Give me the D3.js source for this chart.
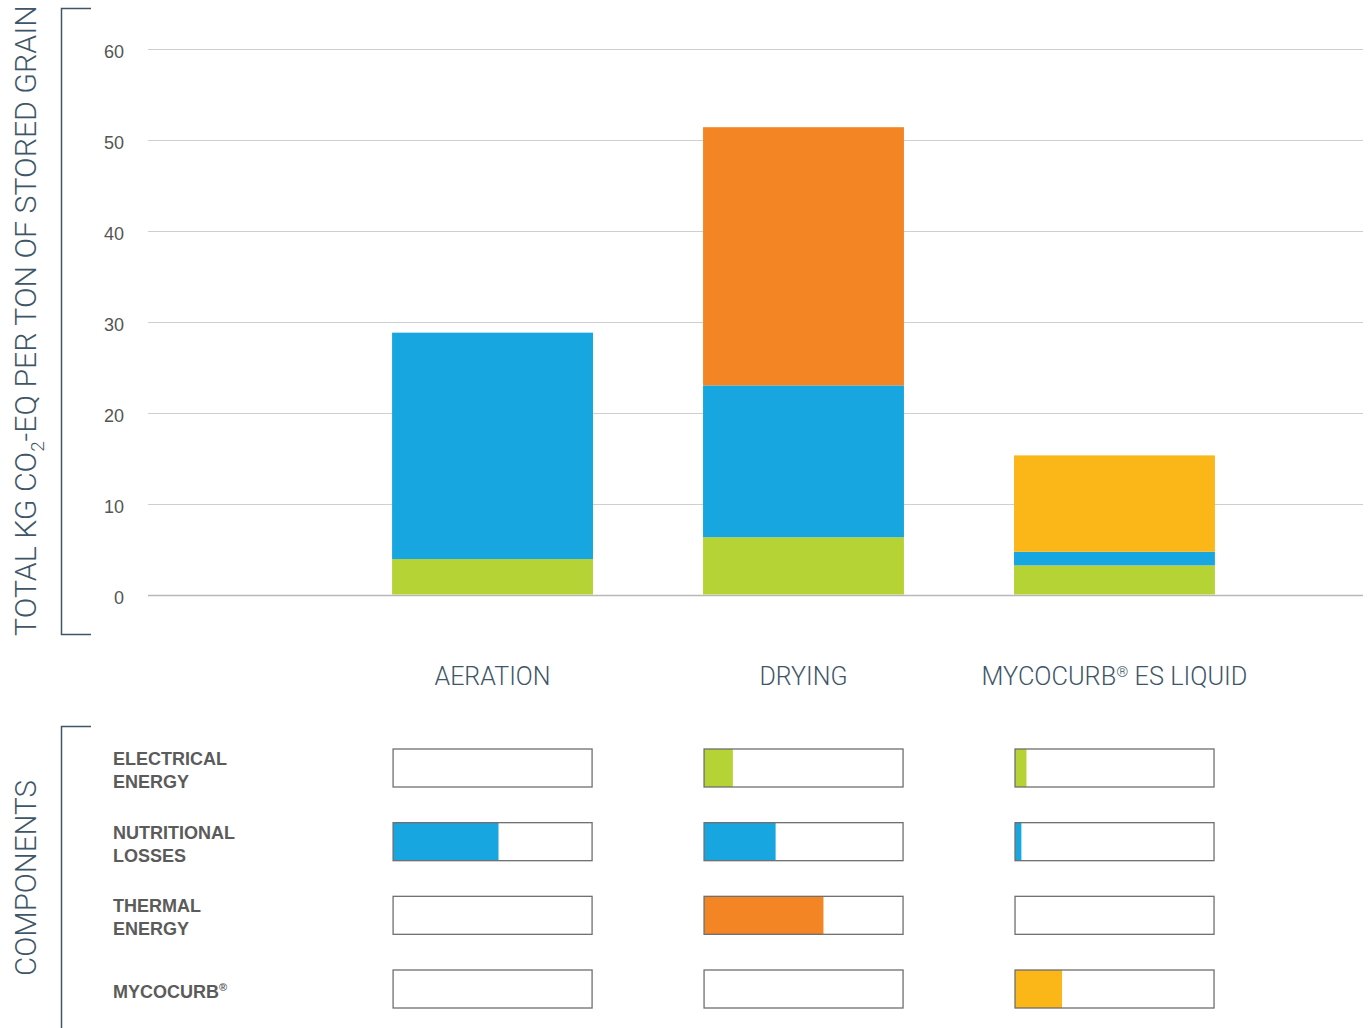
<!DOCTYPE html>
<html><head><meta charset="utf-8">
<script src="https://cdn.jsdelivr.net/npm/d3@7"></script>
<style>body{margin:0;background:#fff}svg{display:block}</style>
</head><body>
<svg id="c" width="1369" height="1028"></svg>
<script>
// ---- data ----
const categories = ["AERATION", "DRYING", "MYCOCURB® ES LIQUID"];
const seriesNames = ["ELECTRICAL ENERGY", "NUTRITIONAL LOSSES", "THERMAL ENERGY", "MYCOCURB®"];
const electrical = [3.9, 6.3, 3.2];
const nutritional = [24.9, 16.7, 1.5];
const thermal = [0, 28.4, 0];
const mycocurb = [0, 0, 10.6];
const yTicks = [0, 10, 20, 30, 40, 50, 60];
// component indicator bars (as drawn in the lower panel)
const indElectrical = [0, 6.8, 2.7];
const indNutritional = [24.9, 16.9, 1.5];
const indThermal = [0, 28.2, 0];
const indMycocurb = [0, 0, 11.1];
const indMax = 47;
const componentLabels = [["ELECTRICAL", "ENERGY"], ["NUTRITIONAL", "LOSSES"], ["THERMAL", "ENERGY"], ["MYCOCURB®"]];
const colors = ["#b5d334", "#17a6df", "#f48524", "#fbb618"];

const svg = d3.select("#c");
const slate = "#3e5668";

const x = d3.scaleBand().domain(categories).range([282, 1325]).padding(0.354);
const y = d3.scaleLinear().domain([0, 60]).range([594.5, 49]);

// gridlines
svg.append("g").selectAll("line").data(yTicks).join("line")
  .attr("x1", 148).attr("x2", 1363)
  .attr("y1", d => Math.round(y(d)) + 0.5).attr("y2", d => Math.round(y(d)) + 0.5)
  .attr("stroke", d => d === 0 ? "#b8b8b8" : "#cfcfcf").attr("stroke-width", d => d === 0 ? 1.5 : 1);

// tick labels
svg.append("g").selectAll("text").data(yTicks).join("text")
  .attr("x", 124).attr("y", d => y(d) + 9)
  .attr("text-anchor", "end")
  .attr("font-family", "Liberation Sans, Arial, sans-serif").attr("font-size", 18)
  .attr("fill", "#555").text(d => d);

// stacked bars
const table = categories.map((c, i) => ({cat: c, e: electrical[i], n: nutritional[i], t: thermal[i], m: mycocurb[i]}));
const stack = d3.stack().keys(["e", "n", "t", "m"])(table);
svg.append("g").selectAll("g").data(stack).join("g")
  .attr("fill", (d, i) => colors[i])
  .selectAll("rect").data(d => d).join("rect")
  .attr("x", d => x(d.data.cat)).attr("width", x.bandwidth())
  .attr("y", d => y(d[1])).attr("height", d => y(d[0]) - y(d[1]));

// helper to fit text to a width horizontally
function fit(sel, target) {
  const w = sel.node().getComputedTextLength();
  return target / w;
}
function writeReg(t, str, supSize, dy) {
  const parts = str.split("®");
  parts.forEach((p, k) => {
    if (k > 0) {
      t.append("tspan").attr("font-size", supSize).attr("dy", -dy).text("®");
      t.append("tspan").attr("dy", dy).text(p);
    } else t.append("tspan").text(p);
  });
}

// category labels
categories.forEach((c, i) => {
  const widths = [116, 88, 266];
  const cx = x(c) + x.bandwidth() / 2;
  const g = svg.append("g");
  const t = g.append("text").attr("text-anchor", "middle")
    .attr("font-family", "Roboto, sans-serif").attr("font-weight", 300)
    .attr("font-size", 25).attr("fill", slate);
  writeReg(t, c, 15, 8);
  const s = fit(t, widths[i]);
  g.attr("transform", `translate(${cx},${685}) scale(${s},1)`);
});

// y-axis title
{
  const g = svg.append("g");
  const t = g.append("text").attr("text-anchor", "middle")
    .attr("font-family", "Roboto, sans-serif").attr("font-weight", 300)
    .attr("font-size", 29).attr("fill", slate);
  t.append("tspan").text("TOTAL KG CO");
  t.append("tspan").attr("font-size", 18).attr("dy", 8).text("2");
  t.append("tspan").attr("dy", -8).text("-EQ PER TON OF STORED GRAIN");
  const s = fit(t, 631);
  g.attr("transform", `translate(36,${320.5}) rotate(-90) scale(${s},1)`);
}

// brackets
const br = svg.append("g").attr("stroke", slate).attr("stroke-width", 1.5).attr("fill", "none");
br.append("path").attr("d", "M91,8.5 H61.5 V634.5 H91");
br.append("path").attr("d", "M91,726.5 H61.5 V1028");

// COMPONENTS title
{
  const g = svg.append("g");
  const t = g.append("text").attr("text-anchor", "middle")
    .attr("font-family", "Roboto, sans-serif").attr("font-weight", 300)
    .attr("font-size", 29).attr("fill", slate).text("COMPONENTS");
  const s = fit(t, 196);
  g.attr("transform", `translate(36,${878}) rotate(-90) scale(${s},1)`);
}

// component rows
const rowY = d3.scalePoint().domain(seriesNames).range([768, 989]);
const indX = d3.scaleLinear().domain([0, indMax]).range([0, 199]);
const indVals = [indElectrical, indNutritional, indThermal, indMycocurb];

seriesNames.forEach((name, r) => {
  const cy = rowY(name);
  const lines = componentLabels[r];
  const lt = svg.append("text").attr("font-family", "Liberation Sans, Arial, sans-serif")
    .attr("font-weight", "bold").attr("font-size", 18).attr("fill", "#5b5b5b");
  lines.forEach((l, k) => {
    const yy = lines.length === 1 ? cy + 9 : cy - 3 + k * 23;
    const sp = lt.append("tspan").attr("x", 113).attr("y", yy);
    if (l.endsWith("®")) {
      sp.text(l.slice(0, -1));
      lt.append("tspan").attr("font-size", 11).attr("dy", -7).text("®");
    } else sp.text(l);
  });
  categories.forEach((c, i) => {
    const bx = x(c) + 1;
    const v = indVals[r][i];
    if (v > 0) {
      svg.append("rect").attr("x", bx).attr("y", cy - 19).attr("width", indX(v)).attr("height", 38)
        .attr("fill", colors[r]);
    }
    svg.append("rect").attr("x", bx).attr("y", cy - 19).attr("width", 199).attr("height", 38)
      .attr("fill", "none").attr("stroke", "#6f6f6f").attr("stroke-width", 1.3);
  });
});
</script>
</body></html>
